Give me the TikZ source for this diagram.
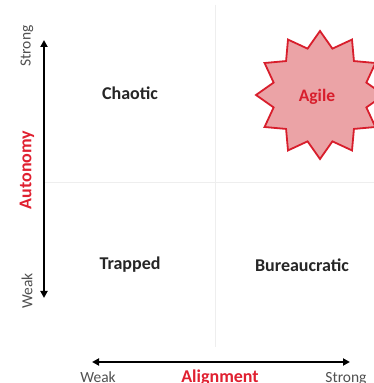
\documentclass[tikz,border=0pt]{standalone}
\usepackage{fontspec}
\setmainfont{Carlito}
\usetikzlibrary{arrows.meta,calc}
\definecolor{axisred}{HTML}{E02030}
\definecolor{starfill}{HTML}{EBA3A6}
\definecolor{starline}{HTML}{D81E2C}
\definecolor{gridgray}{HTML}{EEEEEE}
\definecolor{sidegray}{HTML}{505050}
\begin{document}
\begin{tikzpicture}[x=1pt,y=1pt,
  quad/.style={font=\fontsize{18}{20}\selectfont\bfseries, text=black!85},
  endlabel/.style={font=\fontsize{15.5}{17}\selectfont, text=sidegray},
  axislabel/.style={font=\fontsize{18}{20}\selectfont\bfseries, text=axisred},
  axisarrow/.style={line width=1.8pt, {Triangle[length=7pt,width=7pt]}-{Triangle[length=7pt,width=7pt]}},
  grid line/.style={draw=gridgray, line width=1pt}]
\useasboundingbox (0,0) rectangle (374,383);
\clip (0,0) rectangle (374,383);
\fill[white] (0,0) rectangle (374,383);
% grid lines
\coordinate (vt) at (215,378);
\coordinate (vb) at (215,36);
\coordinate (hl) at (45,200);
\coordinate (hr) at (374,200);
\draw[grid line] (vt) -- (vb);
\draw[grid line] (hl) -- (hr);
% vertical axis
\coordinate (ytop) at (44,343);
\coordinate (ybot) at (44,85);
\draw[axisarrow] (ybot) -- (ytop);
\node[endlabel, rotate=90] (ystrong) at (27,337) {Strong};
\node[endlabel, rotate=90] (yweak) at (27,92) {Weak};
\node[axislabel, rotate=90] (yaxis) at (27,213) {Autonomy};
% horizontal axis
\coordinate (xleft) at (92,21);
\coordinate (xright) at (350,21);
\draw[axisarrow] (xleft) -- (xright);
\node[endlabel, anchor=base] (xweak) at (98,1) {Weak};
\node[endlabel, anchor=base] (xstrong) at (346,1) {Strong};
\node[axislabel, anchor=base] (xaxis) at (220,1) {Alignment};
% quadrants
\node[quad] (chaotic) at (130,290) {Chaotic};
\node[quad] (trapped) at (130,118) {Trapped};
\node[quad] (bureau) at (302,118) {Bureaucratic};
% star
\coordinate (sc) at (320,288);
\draw[fill=starfill, draw=starline, line width=1.8pt, line join=miter]
  ($(sc)+(90:64)$)
  \foreach \i in {0,...,11} { -- ($(sc)+(90+\i*30+15:48)$) -- ($(sc)+(90+\i*30+30:64)$) } -- cycle;
\node[font=\fontsize{17.5}{20}\selectfont\bfseries, text=starline] (agile) at (317,286) {Agile};
\end{tikzpicture}
\end{document}
